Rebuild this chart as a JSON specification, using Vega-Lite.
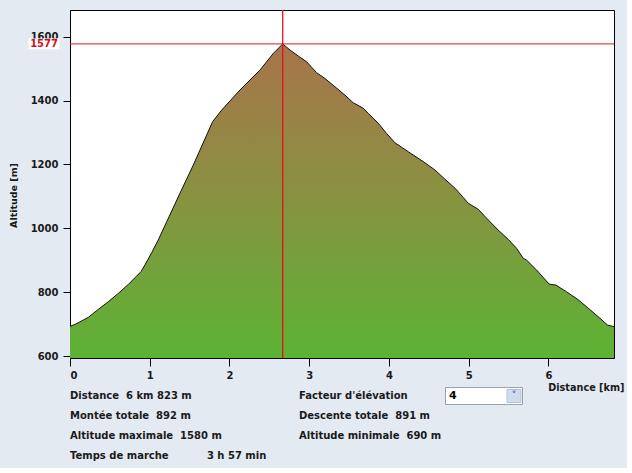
{
  "$schema": "https://vega.github.io/schema/vega-lite/v6.json",
  "background": "#e3eaf2",
  "padding": {"left": 7, "top": 8, "right": 2, "bottom": 2},
  "spacing": 28,
  "bounds": "flush",
  "config": {
    "font": "DejaVu Sans",
    "view": {"stroke": "#000", "strokeWidth": 1},
    "axis": {
      "labelFont": "DejaVu Sans",
      "labelFontWeight": "bold",
      "labelFontSize": 10,
      "labelColor": "#1a1a1a",
      "titleFont": "DejaVu Sans",
      "titleFontWeight": "bold",
      "titleColor": "#1a1a1a",
      "tickColor": "#000",
      "domainColor": "#000",
      "grid": false
    }
  },
  "datasets": {
    "profile": [
      {"km": 0.000, "alt": 694},
      {"km": 0.063, "alt": 700},
      {"km": 0.147, "alt": 711},
      {"km": 0.229, "alt": 722},
      {"km": 0.355, "alt": 747},
      {"km": 0.480, "alt": 771},
      {"km": 0.606, "alt": 797},
      {"km": 0.731, "alt": 825},
      {"km": 0.836, "alt": 851},
      {"km": 0.890, "alt": 865},
      {"km": 0.940, "alt": 886},
      {"km": 1.024, "alt": 924},
      {"km": 1.107, "alt": 964},
      {"km": 1.213, "alt": 1021},
      {"km": 1.379, "alt": 1110},
      {"km": 1.546, "alt": 1198},
      {"km": 1.714, "alt": 1292},
      {"km": 1.789, "alt": 1334},
      {"km": 1.902, "alt": 1370},
      {"km": 2.132, "alt": 1433},
      {"km": 2.382, "alt": 1495},
      {"km": 2.549, "alt": 1547},
      {"km": 2.668, "alt": 1577},
      {"km": 2.759, "alt": 1558},
      {"km": 2.863, "alt": 1539},
      {"km": 2.968, "alt": 1521},
      {"km": 3.031, "alt": 1504},
      {"km": 3.093, "alt": 1487},
      {"km": 3.197, "alt": 1469},
      {"km": 3.323, "alt": 1443},
      {"km": 3.448, "alt": 1417},
      {"km": 3.552, "alt": 1393},
      {"km": 3.678, "alt": 1376},
      {"km": 3.740, "alt": 1360},
      {"km": 3.866, "alt": 1329},
      {"km": 3.971, "alt": 1297},
      {"km": 4.075, "alt": 1268},
      {"km": 4.242, "alt": 1240},
      {"km": 4.430, "alt": 1209},
      {"km": 4.577, "alt": 1183},
      {"km": 4.702, "alt": 1154},
      {"km": 4.828, "alt": 1126},
      {"km": 4.932, "alt": 1097},
      {"km": 4.994, "alt": 1079},
      {"km": 5.120, "alt": 1060},
      {"km": 5.225, "alt": 1032},
      {"km": 5.370, "alt": 995},
      {"km": 5.496, "alt": 966},
      {"km": 5.601, "alt": 938},
      {"km": 5.684, "alt": 907},
      {"km": 5.727, "alt": 901},
      {"km": 5.852, "alt": 870},
      {"km": 6.010, "alt": 826},
      {"km": 6.094, "alt": 823},
      {"km": 6.228, "alt": 802},
      {"km": 6.374, "alt": 777},
      {"km": 6.499, "alt": 751},
      {"km": 6.625, "alt": 724},
      {"km": 6.742, "alt": 698},
      {"km": 6.805, "alt": 694},
      {"km": 6.823, "alt": 693}
    ],
    "cursor": [{"km": 2.668, "alt": 1577, "label": "1577"}],
    "info": [
      {"col": "A", "row": 0, "text": "Distance\u00a0\u00a06 km 823 m"},
      {"col": "A", "row": 1, "text": "Montée totale\u00a0\u00a0892 m"},
      {"col": "A", "row": 2, "text": "Altitude maximale\u00a0\u00a01580 m"},
      {"col": "A", "row": 3, "text": "Temps de marche\u00a0\u00a0\u00a0\u00a0\u00a0\u00a0\u00a0\u00a0\u00a0\u00a0\u00a03 h 57 min"},
      {"col": "B", "row": 0, "text": "Facteur d'élévation"},
      {"col": "B", "row": 1, "text": "Descente totale\u00a0\u00a0891 m"},
      {"col": "B", "row": 2, "text": "Altitude minimale\u00a0\u00a0690 m"}
    ],
    "control": [{"col": "B", "row": 0, "value": "4"}]
  },
  "vconcat": [
    {
      "width": 544,
      "height": 348,
      "view": {"fill": "#ffffff", "stroke": "#000", "strokeWidth": 1},
      "layer": [
        {
          "data": {"name": "profile"},
          "mark": {
            "type": "area",
            "opacity": 1,
            "fillOpacity": 1,
            "clip": true,
            "color": {
              "gradient": "linear",
              "x1": 0, "y1": 0, "x2": 0, "y2": 1,
              "stops": [
                {"offset": 0, "color": "#a8744a"},
                {"offset": 0.45, "color": "#8b9042"},
                {"offset": 1, "color": "#5cb334"}
              ]
            },
            "line": {"color": "#111", "strokeWidth": 1, "clip": true}
          },
          "encoding": {
            "x": {
              "field": "km", "type": "quantitative",
              "scale": {"domain": [0, 6.823], "nice": false, "zero": false},
              "axis": {
                "title": "Distance [km]",
                "values": [0, 1, 2, 3, 4, 5, 6],
                "format": "d",
                "tickSize": 8,
                "labelPadding": 4,
                "titleFontSize": 9.7,
                "titleX": 554,
                "titleY": 29,
                "titleAlign": "right",
                "titleBaseline": "middle"
              }
            },
            "y": {
              "field": "alt", "type": "quantitative",
              "scale": {"domain": [595, 1683], "nice": false, "zero": false},
              "axis": {
                "title": "Altitude [m]",
                "values": [600, 800, 1000, 1200, 1400, 1600],
                "format": "d",
                "tickSize": 7,
                "labelPadding": 5,
                "titleFontSize": 9.5,
                "titleX": -57,
                "titleY": 185,
                "titleBaseline": "middle"
              }
            },
            "y2": {"datum": 595}
          }
        },
        {
          "data": {"name": "cursor"},
          "mark": {"type": "rule", "stroke": "#e8101c", "color": "#e8101c", "strokeWidth": 1.3, "opacity": 1},
          "encoding": {
            "x": {"field": "km", "type": "quantitative", "title": "Distance [km]"}
          }
        },
        {
          "data": {"name": "cursor"},
          "mark": {"type": "rule", "stroke": "#e0141e", "color": "#e0141e", "strokeWidth": 1, "opacity": 1},
          "encoding": {
            "y": {"field": "alt", "type": "quantitative", "title": "Altitude [m]"}
          }
        },
        {
          "data": {"name": "cursor"},
          "mark": {"type": "rect", "fill": "#ffffff", "width": 31, "height": 11, "xOffset": -26},
          "encoding": {
            "x": {"datum": 0, "type": "quantitative"},
            "y": {"field": "alt", "type": "quantitative", "title": "Altitude [m]"}
          }
        },
        {
          "data": {"name": "cursor"},
          "mark": {"type": "text", "color": "#d4101c", "fontWeight": "bold", "fontSize": 10, "align": "right", "baseline": "middle", "dx": -12},
          "encoding": {
            "x": {"datum": 0, "type": "quantitative"},
            "y": {"field": "alt", "type": "quantitative", "title": "Altitude [m]"},
            "text": {"field": "label"}
          }
        }
      ]
    },
    {
      "width": 229,
      "height": 80,
      "view": {"stroke": null},
      "layer": [
        {
          "data": {"name": "info"},
          "mark": {"type": "text", "align": "left", "baseline": "middle", "fontSize": 10, "fontWeight": "bold", "color": "#1a1a1a"},
          "encoding": {
            "x": {"field": "col", "type": "nominal", "scale": {"type": "point", "padding": 0, "domain": ["A", "B"]}, "axis": null},
            "y": {"field": "row", "type": "ordinal", "scale": {"type": "point", "padding": 0.5, "domain": [0, 1, 2, 3]}, "axis": null},
            "text": {"field": "text"}
          }
        },
        {
          "data": {"name": "control"},
          "mark": {"type": "rect", "fill": "#ffffff", "stroke": "#9aa3ad", "strokeWidth": 1, "width": 77, "height": 17, "xOffset": 185},
          "encoding": {
            "x": {"field": "col", "type": "nominal", "scale": {"type": "point", "padding": 0, "domain": ["A", "B"]}, "axis": null},
            "y": {"field": "row", "type": "ordinal", "scale": {"type": "point", "padding": 0.5, "domain": [0, 1, 2, 3]}, "axis": null}
          }
        },
        {
          "data": {"name": "control"},
          "mark": {"type": "rect", "fill": "#cfdcf0", "stroke": "#b4c2d6", "strokeWidth": 1, "width": 14, "height": 13, "xOffset": 215},
          "encoding": {
            "x": {"field": "col", "type": "nominal", "scale": {"type": "point", "padding": 0, "domain": ["A", "B"]}, "axis": null},
            "y": {"field": "row", "type": "ordinal", "scale": {"type": "point", "padding": 0.5, "domain": [0, 1, 2, 3]}, "axis": null}
          }
        },
        {
          "data": {"name": "control"},
          "mark": {"type": "text", "align": "left", "baseline": "middle", "fontSize": 11, "fontWeight": "bold", "color": "#000", "dx": 150},
          "encoding": {
            "x": {"field": "col", "type": "nominal", "scale": {"type": "point", "padding": 0, "domain": ["A", "B"]}, "axis": null},
            "y": {"field": "row", "type": "ordinal", "scale": {"type": "point", "padding": 0.5, "domain": [0, 1, 2, 3]}, "axis": null},
            "text": {"field": "value"}
          }
        },
        {
          "data": {"name": "control"},
          "mark": {"type": "text", "align": "center", "baseline": "middle", "fontSize": 10, "fontWeight": "bold", "color": "#3b5f9e", "dx": 215, "text": "˅"},
          "encoding": {
            "x": {"field": "col", "type": "nominal", "scale": {"type": "point", "padding": 0, "domain": ["A", "B"]}, "axis": null},
            "y": {"field": "row", "type": "ordinal", "scale": {"type": "point", "padding": 0.5, "domain": [0, 1, 2, 3]}, "axis": null}
          }
        }
      ]
    }
  ]
}
